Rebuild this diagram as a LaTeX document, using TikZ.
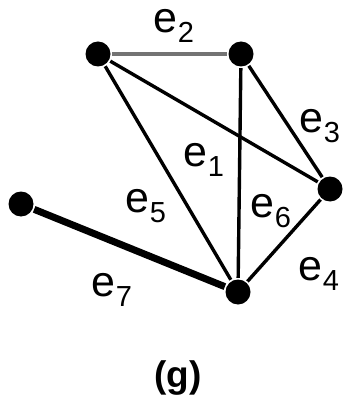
\documentclass[tikz,border=0pt]{standalone}
\usepackage{fontspec}
\setmainfont{Liberation Sans}
\usetikzlibrary{positioning}
\newcommand{\elab}[1]{e\raisebox{-10pt}{\fontsize{29}{29}\selectfont #1}}
\tikzset{
  every picture/.style={line width=3.4pt},
  vertex/.style={circle, fill=black, inner sep=0pt, minimum size=25pt},
  link/.style={draw=black, line width=3.4pt},
  heavy/.style={draw=black, line width=7pt},
  elabel/.style={font=\fontsize{43}{43}\selectfont, inner sep=0pt},
}
\begin{document}
\begin{tikzpicture}[x=1pt, y=-1pt]
  \useasboundingbox (0,0) rectangle (346,403);
  % vertices
  \node[vertex] (tl) at (98,54) {};
  \node[vertex] (tr) at (241,54) {};
  \node[vertex] (rt) at (330,189) {};
  \node[vertex] (lf) at (21,204) {};
  \node[vertex] (bt) at (238,292) {};
  % edges
  \draw[link, draw=black!55] (tl) -- (tr);
  \draw[link] (tl) -- (rt);
  \draw[link] (tl) -- (bt);
  \draw[link] (tr) -- (bt);
  \draw[link] (tr) -- (rt);
  \draw[link] (rt) -- (bt);
  \draw[heavy] (lf) -- (bt);
  % labels
  \node[elabel] (l1) at (204,160) {\elab{1}};
  \node[elabel] (l2) at (174,26) {\elab{2}};
  \node[elabel] (l3) at (320,126) {\elab{3}};
  \node[elabel] (l4) at (319,274) {\elab{4}};
  \node[elabel] (l5) at (146,206) {\elab{5}};
  \node[elabel] (l6) at (271,211) {\elab{6}};
  \node[elabel] (l7) at (112,290) {\elab{7}};
  \node[font=\fontsize{37}{37}\selectfont\bfseries] (cap) at (178,378) {(g)};
\end{tikzpicture}
\end{document}
